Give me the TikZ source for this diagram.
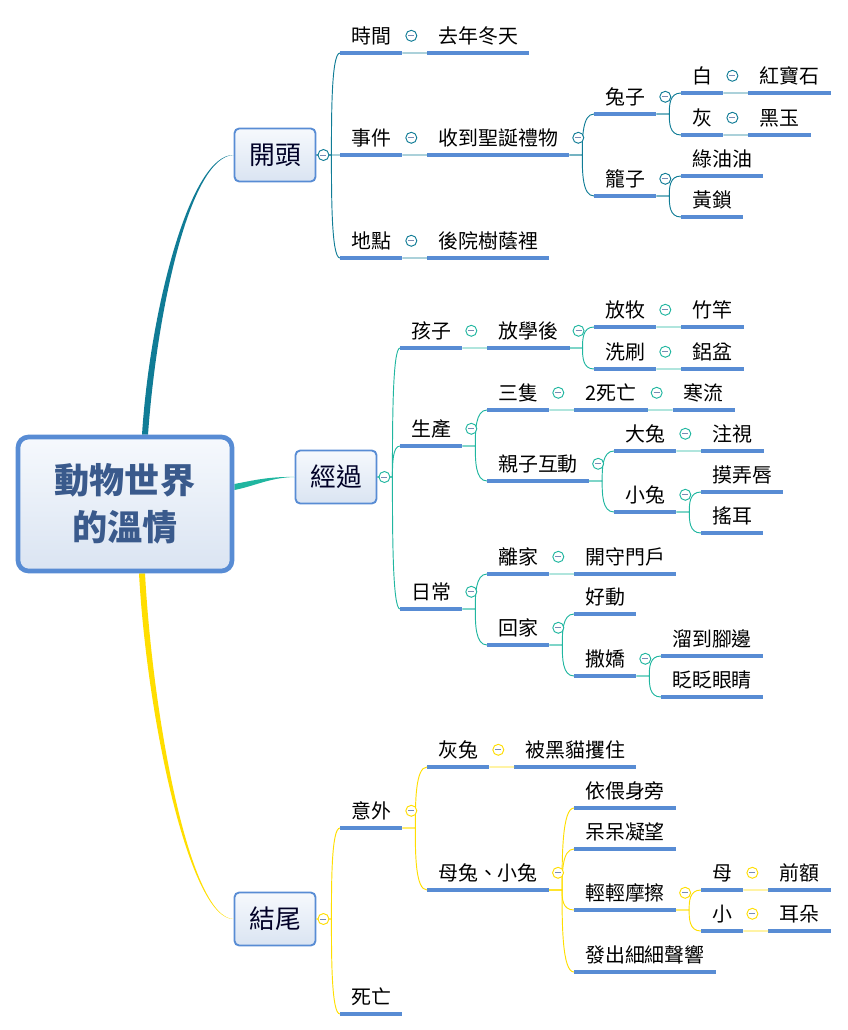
\documentclass[tikz,border=0pt]{standalone}
\usepackage{fontspec}
\setmainfont{Noto Sans CJK TC}
\usetikzlibrary{calc,backgrounds}
\definecolor{tealdk}{RGB}{16,124,150}
\definecolor{mint}{RGB}{32,182,160}
\definecolor{sun}{RGB}{255,222,0}
\definecolor{ulblue}{RGB}{88,140,212}
\definecolor{slate}{RGB}{58,90,140}
\definecolor{boxtop}{RGB}{246,249,253}
\definecolor{boxbot}{RGB}{218,228,242}
\definecolor{minus}{RGB}{120,140,180}
\tikzset{
  x=0.03cm, y=-0.03cm,
  root/.style={draw=ulblue,line width=4pt,rounded corners=9pt,top color=boxtop,bottom color=boxbot,
    minimum width=6.42cm,minimum height=4.02cm,align=center,text=slate,
    font=\fontsize{30}{40}\selectfont\bfseries},
  main/.style={draw=ulblue,line width=1.6pt,rounded corners=4pt,top color=boxtop,bottom color=boxbot,
    minimum width=2.43cm,minimum height=1.59cm,text=black!85!blue,font=\fontsize{22}{26}\selectfont},
  topic/.style={anchor=south west,inner xsep=0.33cm,inner ysep=8pt,text height=13pt,text depth=0pt,
    font=\fontsize{17}{20}\selectfont,
    append after command={(\tikzlastnode.south west) edge[ulblue,line width=2.6pt] (\tikzlastnode.south east)}},
  link/.style={draw=#1,line width=0.8pt},
  curvy/.style={to path={-- ++(#1,0) coordinate (s) .. controls ($(s)!0.4!(s|-\tikztotarget)$) and (s|-\tikztotarget) .. (\tikztotarget)}},
  curvy/.default=0.39cm,
  dot/.style={circle,draw=#1,line width=0.8pt,fill=white,minimum size=0.33cm,inner sep=0pt,
    path picture={\draw[minus,line width=0.7pt] ([xshift=-0.09cm]path picture bounding box.center) -- ([xshift=0.09cm]path picture bounding box.center);}},
}

\begin{document}
\begin{tikzpicture}
  \useasboundingbox (0,0) rectangle (848,1030);

  % central topic and main boxes
  \node[root] (root) at (125,504) {動物世界\\的溫情};
  \node[main] (kaitou) at (275,155) {開頭};
  \node[main] (jingguo) at (336,477) {經過};
  \node[main] (jiewei) at (275,919) {結尾};

  % opening
  \node[topic] (time) at (340,53) {時間};
  \node[topic] (winter) at ([xshift=0.75cm]time.south east) {去年冬天};
  \node[topic] (event) at (340,155) {事件};
  \node[topic] (gift) at ([xshift=0.75cm]event.south east) {收到聖誕禮物};
  \node[topic] (rabbit) at (594,114) {兔子};
  \node[topic] (white) at (681,93) {白};
  \node[topic] (ruby) at ([xshift=0.75cm]white.south east) {紅寶石};
  \node[topic] (grey) at (681,135) {灰};
  \node[topic] (jade) at ([xshift=0.75cm]grey.south east) {黑玉};
  \node[topic] (cage) at (594,196) {籠子};
  \node[topic] (green) at (681,176) {綠油油};
  \node[topic] (lock) at (681,217) {黃鎖};
  \node[topic] (place) at (340,258) {地點};
  \node[topic] (shade) at ([xshift=0.75cm]place.south east) {後院樹蔭裡};

  % middle
  \node[topic] (kids) at (400,348) {孩子};
  \node[topic] (school) at ([xshift=0.75cm]kids.south east) {放學後};
  \node[topic] (herd) at (594,327) {放牧};
  \node[topic] (pole) at ([xshift=0.75cm]herd.south east) {竹竿};
  \node[topic] (wash) at (594,369) {洗刷};
  \node[topic] (basin) at ([xshift=0.75cm]wash.south east) {鋁盆};
  \node[topic] (birth) at (400,446) {生產};
  \node[topic] (three) at (487,410) {三隻};
  \node[topic] (dead) at ([xshift=0.75cm]three.south east) {2死亡};
  \node[topic] (cold) at ([xshift=0.75cm]dead.south east) {寒流};
  \node[topic] (bond) at (487,481) {親子互動};
  \node[topic] (bigr) at (614,451) {大兔};
  \node[topic] (gaze) at ([xshift=0.75cm]bigr.south east) {注視};
  \node[topic] (smallr) at (614,512) {小兔};
  \node[topic] (lips) at (701,492) {摸弄唇};
  \node[topic] (ears) at (701,533) {搖耳};
  \node[topic] (daily) at (400,609) {日常};
  \node[topic] (leave) at (487,574) {離家};
  \node[topic] (guard) at ([xshift=0.75cm]leave.south east) {開守門戶};
  \node[topic] (home) at (487,645) {回家};
  \node[topic] (active) at (574,614) {好動};
  \node[topic] (coy) at (574,676) {撒嬌};
  \node[topic] (feet) at (661,656) {溜到腳邊};
  \node[topic] (blink) at (661,697) {眨眨眼睛};

  % ending
  \node[topic] (accident) at (340,828) {意外};
  \node[topic] (greyr) at (427,767) {灰兔};
  \node[topic] (caught) at ([xshift=0.75cm]greyr.south east) {被黑貓攫住};
  \node[topic] (pair) at (427,890) {母兔、小兔};
  \node[topic] (lean) at (574,808) {依偎身旁};
  \node[topic] (stare) at (574,849) {呆呆凝望};
  \node[topic] (rub) at (574,910) {輕輕摩擦};
  \node[topic] (mom) at (701,890) {母};
  \node[topic] (brow) at ([xshift=0.75cm]mom.south east) {前額};
  \node[topic] (kid) at (701,931) {小};
  \node[topic] (ear) at ([xshift=0.75cm]kid.south east) {耳朵};
  \node[topic] (sound) at (574,972) {發出細細聲響};
  \node[topic] (death) at (340,1014) {死亡};

  % tapered main branches
  \begin{scope}[on background layer]
    \coordinate (ra) at ($(root.north)+(20,0)$);
    \coordinate (rb) at ($(root.east)+(0,-17)$);
    \coordinate (rc) at ($(root.south)+(17,0)$);
    \fill[tealdk] ($(ra)+(-3,0)$) .. controls (150,310) and (190,154) .. (kaitou.west)
      .. controls (190,156.5) and (157,310) .. ($(ra)+(3,0)$) -- cycle;
    \fill[mint] ($(rb)+(0,-3)$) .. controls (255,480) and (270,476.5) .. (jingguo.west)
      .. controls (270,477.5) and (255,486) .. ($(rb)+(0,3)$) -- cycle;
    \fill[sun] ($(rc)+(-3,0)$) .. controls (147,720) and (190,920) .. (jiewei.west)
      .. controls (190,918) and (153,720) .. ($(rc)+(3,0)$) -- cycle;
  \end{scope}

  % connectors
  \foreach \b in {time,event,place}
    \draw[link=tealdk] (kaitou.east) to[curvy=0.45cm] (\b.south west);
  \foreach \a/\b in {time/winter,event/gift,gift/rabbit,gift/cage,rabbit/white,rabbit/grey,
      white/ruby,grey/jade,cage/green,cage/lock,place/shade}
    \draw[link=tealdk] (\a.south east) to[curvy] (\b.south west);
  \foreach \b in {kids,birth,daily}
    \draw[link=mint] (jingguo.east) to[curvy=0.45cm] (\b.south west);
  \foreach \a/\b in {kids/school,school/herd,school/wash,herd/pole,wash/basin,birth/three,birth/bond,
      three/dead,dead/cold,bond/bigr,bond/smallr,bigr/gaze,smallr/lips,smallr/ears,daily/leave,
      daily/home,leave/guard,home/active,home/coy,coy/feet,coy/blink}
    \draw[link=mint] (\a.south east) to[curvy] (\b.south west);
  \foreach \b in {accident,death}
    \draw[link=sun] (jiewei.east) to[curvy=0.45cm] (\b.south west);
  \foreach \a/\b in {accident/greyr,accident/pair,greyr/caught,pair/lean,pair/stare,pair/rub,
      pair/sound,rub/mom,rub/kid,mom/brow,kid/ear}
    \draw[link=sun] (\a.south east) to[curvy] (\b.south west);

  % collapse markers
  \node[dot=tealdk] (kaitou-m) at ([xshift=0.21cm]kaitou.east) {};
  \node[dot=mint] (jingguo-m) at ([xshift=0.21cm]jingguo.east) {};
  \node[dot=sun] (jiewei-m) at ([xshift=0.21cm]jiewei.east) {};
  \foreach \n in {time,event,gift,rabbit,white,grey,cage,place}
    \node[dot=tealdk] (\n-m) at ([xshift=0.27cm]\n.east) {};
  \foreach \n in {kids,school,herd,wash,birth,three,dead,bond,bigr,smallr,daily,leave,home,coy}
    \node[dot=mint] (\n-m) at ([xshift=0.27cm]\n.east) {};
  \foreach \n in {accident,greyr,pair,rub,mom,kid}
    \node[dot=sun] (\n-m) at ([xshift=0.27cm]\n.east) {};
\end{tikzpicture}
\end{document}
